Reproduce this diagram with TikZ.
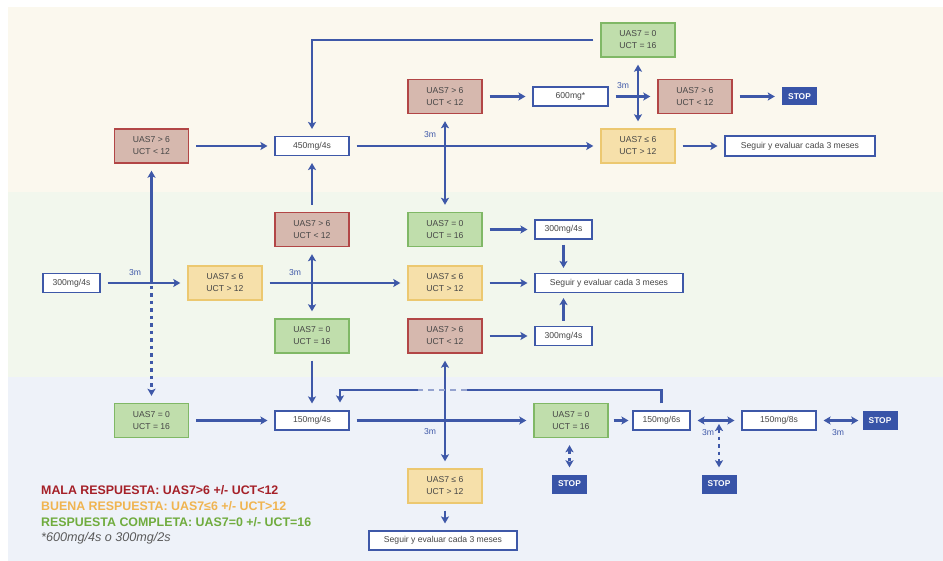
\documentclass[tikz,border=0pt]{standalone}
\usepackage{fontspec}
\setmainfont{Liberation Sans}
\usetikzlibrary{arrows.meta}

\definecolor{lineblue}{RGB}{62,88,168}
\definecolor{stopblue}{RGB}{56,84,168}
\definecolor{redfill}{RGB}{214,184,174}
\definecolor{reddraw}{RGB}{178,70,70}
\definecolor{greenfill}{RGB}{192,222,172}
\definecolor{greendraw}{RGB}{128,184,102}
\definecolor{yellowfill}{RGB}{246,224,170}
\definecolor{yellowdraw}{RGB}{236,200,112}
\definecolor{boxtext}{RGB}{70,70,70}
\definecolor{bgtop}{RGB}{251,248,238}
\definecolor{bgmid}{RGB}{242,247,237}
\definecolor{bgbot}{RGB}{238,242,249}
\definecolor{legred}{RGB}{165,32,40}
\definecolor{legorange}{RGB}{240,180,80}
\definecolor{leggreen}{RGB}{112,172,62}
\definecolor{leggray}{RGB}{90,90,90}

\tikzset{
  statebox/.style={draw, line width=1.4pt, minimum width=74pt, minimum height=34pt, inner sep=0pt, align=center, text=boxtext, font=\fontsize{8.6}{12}\selectfont},
  redbox/.style={statebox, fill=redfill, draw=reddraw},
  yellowbox/.style={statebox, fill=yellowfill, draw=yellowdraw},
  greenbox/.style={statebox, fill=greenfill, draw=greendraw},
  dosebox/.style={statebox, fill=white, draw=lineblue, line width=1.1pt, minimum height=19pt},
  stopbox/.style={fill=stopblue, text=white, minimum width=35pt, minimum height=18pt, inner sep=0pt, font=\bfseries\fontsize{8.4}{10}\selectfont},
  link/.style={draw=lineblue, line width=2.3pt, shorten <=7pt, shorten >=7pt, >={Stealth[length=7pt,width=8pt,inset=1.5pt]}},
  dotlink/.style={link, dash pattern=on 3.5pt off 4pt},
  mlabel/.style={text=lineblue, inner sep=0pt, font=\fontsize{8.6}{10}\selectfont},
  legend/.style={anchor=base west, inner sep=0pt, font=\bfseries\fontsize{12.4}{15}\selectfont},
}

\begin{document}
\begin{tikzpicture}[x=1pt,y=-1pt]
\useasboundingbox (0,0) rectangle (943,561);
\foreach \c/\ya/\yb in {bgtop/7/192,bgmid/192/377,bgbot/377/561} {
\fill[\c] (8,\ya) rectangle (943,\yb);
}

% top band
\def\y{40}
\node[greenbox] (gtop) at (638,\y) {UAS7 = 0\\UCT = 16};

\def\y{96.5}
\node[redbox] (r2) at (445,\y) {UAS7 > 6\\UCT < 12};
\node[dosebox, minimum width=75pt] (d600) at (570.5,\y) {600mg*};
\node[redbox] (r3) at (695,\y) {UAS7 > 6\\UCT < 12};
\node[stopbox] (stopa) at (799.5,\y) {STOP};

\def\y{146}
\node[redbox] (r1) at (151.5,\y) {UAS7 > 6\\UCT < 12};
\node[dosebox] (d450) at (312,\y) {450mg/4s};
\node[yellowbox] (y1) at (638,\y) {UAS7 ≤ 6\\UCT > 12};
\node[dosebox, minimum width=150pt, minimum height=20pt] (seguira) at (800,\y) {Seguir y evaluar cada 3 meses};

% middle band
\def\y{229.5}
\node[redbox] (r4) at (312,\y) {UAS7 > 6\\UCT < 12};
\node[greenbox] (g1) at (445,\y) {UAS7 = 0\\UCT = 16};
\node[dosebox, minimum width=57pt] (d300b) at (563.5,\y) {300mg/4s};

\def\y{283}
\node[dosebox, minimum width=57pt] (d300a) at (71.5,\y) {300mg/4s};
\node[yellowbox] (y2) at (225,\y) {UAS7 ≤ 6\\UCT > 12};
\node[yellowbox] (y3) at (445,\y) {UAS7 ≤ 6\\UCT > 12};
\node[dosebox, minimum width=148pt] (seguirb) at (609,\y) {Seguir y evaluar cada 3 meses};

\def\y{336}
\node[greenbox] (g2) at (312,\y) {UAS7 = 0\\UCT = 16};
\node[redbox] (r5) at (445,\y) {UAS7 > 6\\UCT < 12};
\node[dosebox, minimum width=57pt] (d300c) at (563.5,\y) {300mg/4s};

% bottom band
\def\y{420.5}
\node[greenbox] (g3) at (151.5,\y) {UAS7 = 0\\UCT = 16};
\node[dosebox] (d150a) at (312,\y) {150mg/4s};
\node[greenbox] (g4) at (571,\y) {UAS7 = 0\\UCT = 16};
\node[dosebox, minimum width=57pt] (d150b) at (661.5,\y) {150mg/6s};
\node[dosebox] (d150c) at (779,\y) {150mg/8s};
\node[stopbox, minimum height=19pt] (stopb) at (880,\y) {STOP};

\def\y{484}
\node[stopbox, minimum height=19pt] (stopc) at (569.5,\y) {STOP};
\node[stopbox, minimum height=19pt] (stopd) at (719,\y) {STOP};
\node[yellowbox] (y4) at (445,486) {UAS7 ≤ 6\\UCT > 12};
\node[dosebox, minimum width=148pt] (seguirc) at (443,540.5) {Seguir y evaluar cada 3 meses};

% connectors
\draw[link,->] (r1) -- (d450);
\draw[link,->] (gtop.west) -| (d450.north);
\draw[link,->] (d450) -- (y1);
\draw[link,<->] (r2) -- (g1);
\draw[link,->] (r2) -- (d600);
\draw[link,->] (d600) -- (r3);
\draw[link,<->] (gtop) -- (y1);
\draw[link,->] (r3) -- (stopa);
\draw[link,->] (y1) -- (seguira);

\coordinate (j1) at (r1 |- d300a);
\draw[link,->] (d300a) -- (y2);
\draw[link,->,shorten <=0pt] (j1) -- (r1);
\draw[dotlink,->,shorten <=3pt] (j1) -- (g3);
\draw[link,->] (y2) -- (y3);
\draw[link,<->] (r4) -- (g2);
\draw[link,->] (r4) -- (d450);
\draw[link,->] (g1) -- (d300b);
\draw[link,->] (y3) -- (seguirb);
\draw[link,->] (r5) -- (d300c);
\draw[link,->,shorten <=5pt,shorten >=5pt] (d300b.south) -- (d300b.south |- seguirb.north);
\draw[link,->,shorten <=5pt,shorten >=5pt] (d300c.north) -- (d300c.north |- seguirb.south);
\draw[link,->] (g2) -- (d150a);
\draw[link,<->] (r5) -- (y4);

\draw[link,->] (g3) -- (d150a);
\draw[link,->] (d150a) -- (g4);
\draw[link,->,shorten <=5pt,shorten >=4pt] (g4) -- (d150b);
\draw[link,<->] (d150b) -- (d150c);
\draw[link,<->,shorten >=4pt] (d150c) -- (stopb);
\draw[dotlink,<->] (stopc.north |- g4.south) -- (stopc.north);
\draw[dotlink,<->,shorten <=3.5pt] (stopd.north |- d150b) -- (stopd.north);
\draw[link,->] (y4.south) -- (y4.south |- seguirc.north);

% way back to 150mg/4s
\coordinate (ra) at (661.5,390);
\coordinate (rb) at (467,390);
\coordinate (rc) at (418,390);
\coordinate (rd) at (340,390);
\draw[link,shorten >=0pt] (d150b.north) -- (ra) -- (rb);
\draw[link,draw=lineblue!55,shorten <=0pt,shorten >=0pt,dash pattern=on 6pt off 5pt] (rb) -- (rc);
\draw[link,->,shorten <=0pt,shorten >=8pt] (rc) -- (rd) -- (rd |- d150a.north);

\foreach \x/\y [count=\i] in {135/273,295/273,430/135,623/86,430/432,708/433,838/433} {
\node[mlabel] (t\i) at (\x,\y) {3m};
}

% legend
\node[legend, text=legred] (lmala) at (41,494.5) {MALA RESPUESTA: UAS7>6 +/- UCT<12};
\node[legend, text=legorange] (lbuena) at (41,510.5) {BUENA RESPUESTA: UAS7≤6 +/- UCT>12};
\node[legend, text=leggreen] (lcompleta) at (41,526) {RESPUESTA COMPLETA: UAS7=0 +/- UCT=16};
\node[legend, font=\itshape\fontsize{12.6}{15}\selectfont, text=leggray] (lnota) at (41,541.5) {*600mg/4s o 300mg/2s};
\end{tikzpicture}
\end{document}
